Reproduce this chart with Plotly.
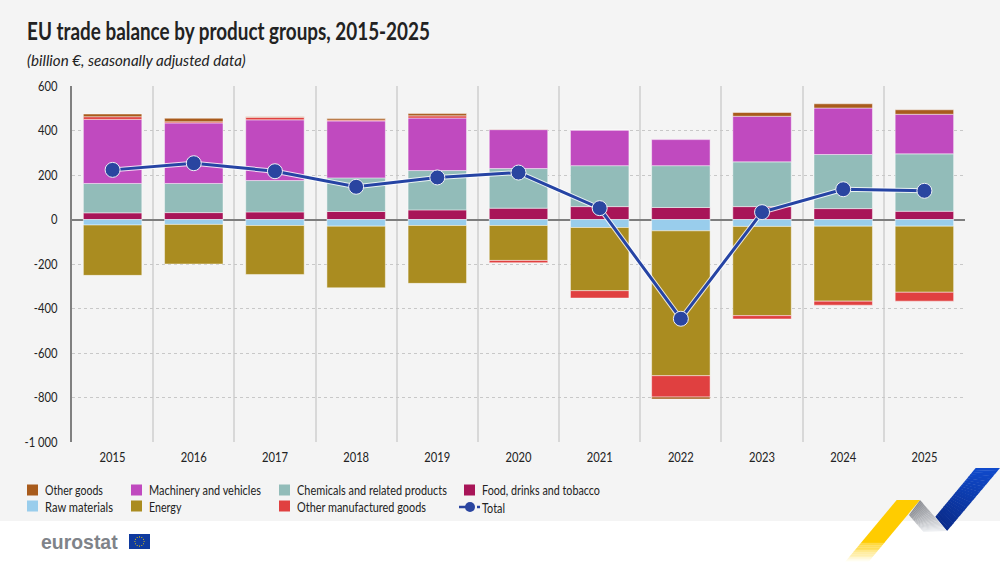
import math

import plotly.graph_objects as go

years = [str(y) for y in range(2015, 2026)]
food = [30, 31, 34, 36, 43, 51, 58, 54, 58, 49, 37]
chemicals = [132, 131, 141, 151, 177, 178, 184, 188, 201, 243, 258]
machinery = [288, 272, 273, 256, 236, 175, 160, 117, 205, 209, 178]
other_manuf = [12, 5, 11, 4, 10, -10, -33, -96, -15, -18, -40]
other_goods = [12, 16, 3, 7, 10, 2, 0, -9, 17, 19, 20]
raw = [-25, -22, -27, -30, -27, -27, -36, -51, -31, -30, -30]
energy = [-226, -178, -220, -277, -260, -157, -284, -651, -401, -337, -297]
total = [223, 253, 217, 147, 189, 211, 51, -446, 33, 136, 129]

y_ticks = [600, 400, 200, 0, -200, -400, -600, -800, -1000]
y_labels = ["600", "400", "200", "0", "-200", "-400", "-600", "-800", "-1 000"]

FONT = "Lato"
TEXT = "#222222"
BG = "#f4f4f4"
EDGE = "rgba(255,255,255,0.45)"

C_FOOD = "#a81558"
C_CHEM = "#92bcb9"
C_MACH = "#c04abf"
C_RAW = "#99cdec"
C_ENERGY = "#aa8c20"
C_MANUF = "#e04040"
C_OTHER = "#a85b1c"
C_TOTAL = "#2a45a0"

L, R, T, B = 72, 965, 86, 442

# width each annotation should end up with, see SQUEEZE below
target_widths = []


def xp(x):
    return (x - L) / (R - L)


def yp(y):
    return (B - y) / (B - T)


def poly(points, color):
    d = "M" + " L".join(f"{xp(x)},{yp(y)}" for x, y in points) + " Z"
    return dict(type="path", xref="paper", yref="paper", path=d, fillcolor=color,
                line_width=0, layer="above")


def box(x0, x1, y0, y1, color, kind="rect"):
    return dict(type=kind, xref="paper", yref="paper", x0=xp(x0), x1=xp(x1), y0=yp(y1), y1=yp(y0),
                fillcolor=color, line_width=0, layer="above")


def label(text, x, y, size, width, color=TEXT, family=FONT):
    target_widths.append(width)
    return dict(text=text, x=xp(x), y=yp(y), xref="paper", yref="paper", xanchor="left", yanchor="middle",
                xshift=-2, showarrow=False, font=dict(family=family, size=size, color=color))


def lerp(a, b, t):
    return a + (b - a) * t


def ribbon(p0, p1, p2, p3, c0, c1, steps=24):
    # split into bands, plotly shapes have no gradient
    out = []
    for i in range(steps):
        t0, t1 = i / steps, (i + 1.15) / steps
        t1 = min(t1, 1)
        a = (lerp(p0[0], p3[0], t0), lerp(p0[1], p3[1], t0))
        b = (lerp(p1[0], p2[0], t0), lerp(p1[1], p2[1], t0))
        c = (lerp(p1[0], p2[0], t1), lerp(p1[1], p2[1], t1))
        d = (lerp(p0[0], p3[0], t1), lerp(p0[1], p3[1], t1))
        col = [round(lerp(u, v, i / (steps - 1))) for u, v in zip(c0, c1)]
        out.append(poly([a, b, c, d], f"rgb({col[0]},{col[1]},{col[2]})"))
    return out


fig = go.Figure()

series = [
    ("Food, drinks and tobacco", food, C_FOOD),
    ("Chemicals and related products", chemicals, C_CHEM),
    ("Machinery and vehicles", machinery, C_MACH),
    ("Raw materials", raw, C_RAW),
    ("Energy", energy, C_ENERGY),
    ("Other manufactured goods", other_manuf, C_MANUF),
    ("Other goods", other_goods, C_OTHER),
]
for name, vals, color in series:
    fig.add_trace(go.Bar(x=years, y=vals, name=name, showlegend=False,
                         marker=dict(color=color, line=dict(color=EDGE, width=1))))

# white halo under the line
fig.add_trace(go.Scatter(x=years, y=total, mode="lines", showlegend=False, hoverinfo="skip",
                         line=dict(color="rgba(255,255,255,0.8)", width=5)))
fig.add_trace(go.Scatter(x=years, y=total, mode="lines+markers", name="Total", showlegend=False,
                         line=dict(color="#2644a4", width=3),
                         marker=dict(color=C_TOTAL, size=15, line=dict(color="#eef0f5", width=1))))

shapes = [dict(type="rect", xref="paper", yref="paper", x0=xp(0), x1=xp(1000), y0=yp(521), y1=yp(0),
               fillcolor=BG, line_width=0, layer="below")]

# ribbon at the bottom right
shapes += ribbon((975.7, 468), (1000, 468), (947, 531), (935.3, 516.7), (16, 74, 204), (10, 44, 140))
shapes += ribbon((920, 500), (909, 515), (923.3, 531.7), (947, 531), (140, 142, 148), (235, 237, 240))
shapes.append(poly([(896.7, 500), (920, 500), (885.8, 541), (862.5, 541)], "#ffcc00"))
shapes += ribbon((885.8, 541), (862.5, 541), (845, 562), (868.3, 562), (255, 204, 0), (255, 255, 250))

# flag of the logo
shapes.append(box(129, 150, 534, 549, "#0f3a9e"))
for i in range(12):
    a = i * math.pi / 6
    cx, cy = 139.5 + 4.6 * math.cos(a), 541.5 + 4.6 * math.sin(a)
    shapes.append(box(cx - 0.55, cx + 0.55, cy - 0.55, cy + 0.55, "#f5d000", "circle"))

annotations = [
    label("<b>EU trade balance by product groups, 2015-2025</b>", 27, 30, 25, 403),
    label("<i>(billion €, seasonally adjusted data)</i>", 27, 59.5, 15, 219),
    label("<b>eurostat</b>", 41, 542, 20, 77, "#7f8389", "Liberation Sans"),
]

# legend built by hand, the columns and swatch gaps differ from plotly's own legend
legend_items = [
    ("Other goods", C_OTHER, 27, 490, 58),
    ("Raw materials", C_RAW, 27, 506, 68),
    ("Machinery and vehicles", C_MACH, 131, 490, 112),
    ("Energy", C_ENERGY, 131, 506, 33),
    ("Chemicals and related products", C_CHEM, 279, 490, 150),
    ("Other manufactured goods", C_MANUF, 279, 506, 129),
    ("Food, drinks and tobacco", C_FOOD, 464, 490, 118),
]
for name, color, x, y, width in legend_items:
    shapes.append(box(x, x + 11, y - 5.5, y + 5.5, color))
    annotations.append(label(name, x + 18, y, 14, width))
shapes.append(dict(type="line", xref="paper", yref="paper", x0=xp(459), x1=xp(480), y0=yp(507), y1=yp(507),
                   line=dict(color=C_TOTAL, width=2.5, dash="dash"), layer="above"))
shapes.append(box(465, 475, 502, 512, C_TOTAL, "circle"))
annotations.append(label("Total", 482, 507, 14, 23))

fig.update_layout(
    width=1000,
    height=562,
    barmode="relative",
    bargap=0.28,
    paper_bgcolor="white",
    plot_bgcolor=BG,
    margin=dict(l=L, r=1000 - R, t=T, b=562 - B),
    font=dict(family=FONT, size=14, color=TEXT),
    showlegend=False,
    xaxis=dict(type="category", range=[-0.5, 10.5], tickson="boundaries", showgrid=True, gridcolor="#d8d8d8",
               gridwidth=1.5, ticks="", ticklabelstandoff=5),
    yaxis=dict(range=[-1000, 600], tickvals=y_ticks, ticktext=y_labels, showgrid=True, gridcolor="#c8c8c8",
               griddash="dot", gridwidth=1, zeroline=True, zerolinecolor="#7d7d7d", zerolinewidth=1.5,
               showline=True, linecolor="#808080", linewidth=1.5, ticks="", ticklabelstandoff=10),
    shapes=shapes,
    annotations=annotations,
)

# the reference font is condensed and none is installed, so squeeze the text horizontally
SQUEEZE = """
document.body.style.margin = '0';
function squeeze(t, k, where) {
  var b = t.getBBox();
  var ox = b.x + b.width * where;
  var old = t.getAttribute('transform') || '';
  t.setAttribute('transform', old + ' translate(' + ox + ',0) scale(' + k + ',1) translate(' + (-ox) + ',0)');
}
var widths = %s;
document.querySelectorAll('.annotation-text').forEach(function (t, i) {
  squeeze(t, widths[i] / t.getBBox().width, 0);
});
document.querySelectorAll('.xtick text').forEach(function (t) { squeeze(t, 0.8, 0.5); });
document.querySelectorAll('.ytick text').forEach(function (t) { squeeze(t, 0.8, 1); });
""" % target_widths

fig.write_html("out.html", config={"displayModeBar": False}, post_script=SQUEEZE)
